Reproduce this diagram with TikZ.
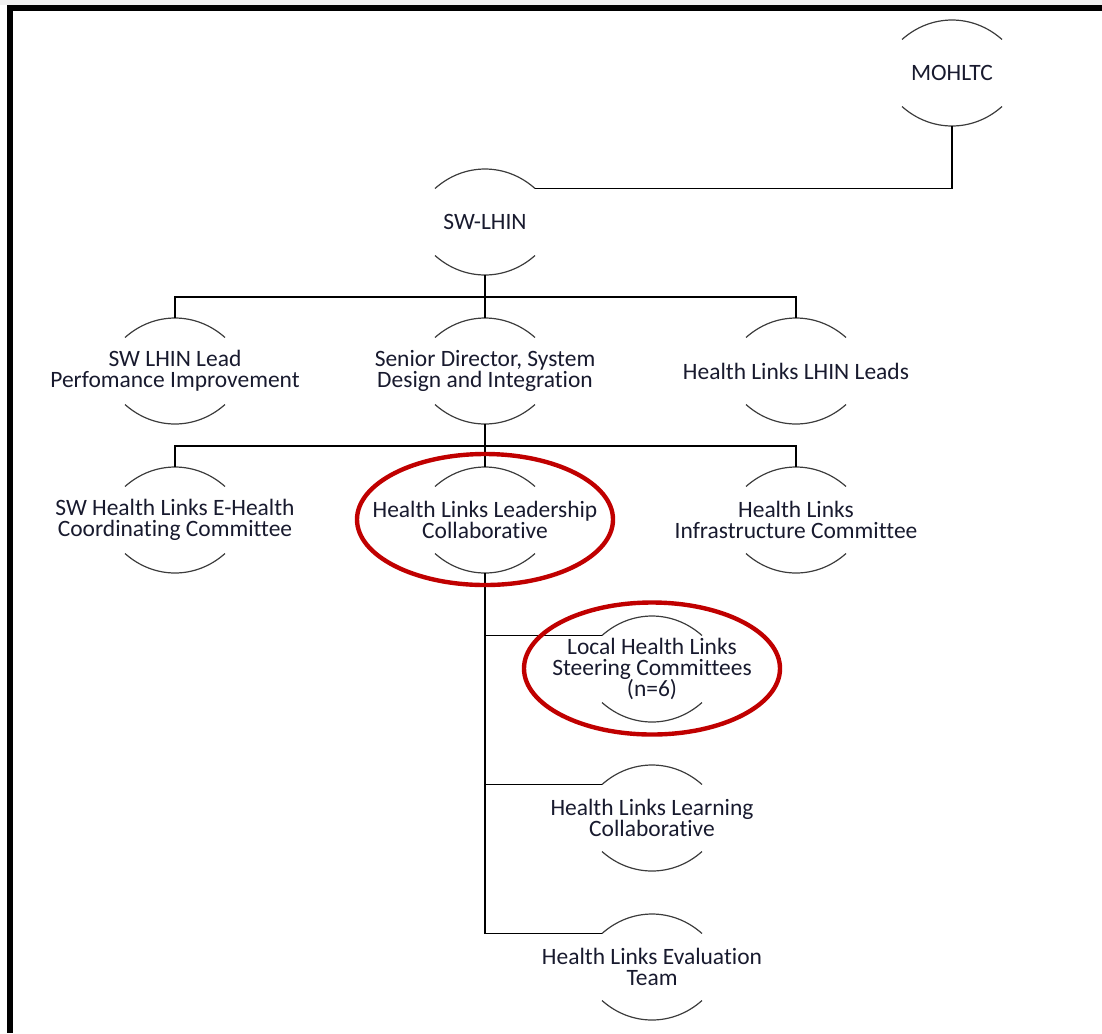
\documentclass[tikz,border=0pt]{standalone}
\usepackage{fontspec}
\setmainfont{Carlito}[Ligatures=NoCommon]
\definecolor{txt}{RGB}{24,26,46}
\definecolor{hl}{RGB}{192,0,0}
\definecolor{arcgray}{RGB}{60,60,60}
\begin{document}
\begin{tikzpicture}[x=0.75pt,y=0.75pt,
  org/.style={draw=none,inner sep=0pt,minimum width=75pt,minimum height=78.75pt,
    align=center,text=txt,font=\fontsize{17.6}{16}\selectfont},
  arcline/.style={draw=arcgray,line width=0.9pt},
  conn/.style={draw=black,line width=0.9pt},
  ring/.style={draw=hl,line width=3.3pt}]
\useasboundingbox (0,0) rectangle (1102,-1033);
\fill[gray!12] (0,0) rectangle (1102,-4.5);
\fill[black] (7,-4.5) rectangle (1102,-11);
\fill[black] (7,-4.5) rectangle (13,-1033);

% nodes
\node[org] (moh) at (952,-73) {MOHLTC};
\node[org] (sw) at (485,-222) {SW-LHIN};
\node[org] (lead) at (175,-371) {SW LHIN Lead\\Perfomance Improvement};
\node[org] (sd) at (485,-371) {Senior Director, System\\Design and Integration};
\node[org] (hlll) at (796,-371) {Health Links LHIN Leads};
\node[org] (ehc) at (175,-520) {SW Health Links E-Health\\Coordinating Committee};
\node[org] (hlc) at (485,-520) {Health Links Leadership\\Collaborative};
\node[org] (inf) at (796,-520) {Health Links\\Infrastructure Committee};
\node[org] (loc) at (652,-669) {Local Health Links\\Steering Committees\\(n=6)};
\node[org] (lrn) at (652,-818) {Health Links Learning\\Collaborative};
\node[org] (evl) at (652,-967) {Health Links Evaluation\\Team};

% arcs (each box is 100 x 105 px; arcs span 100 px and rise 19 px)
\foreach \n/\cx/\cy in {moh/952/-73,sw/485/-222,lead/175/-371,sd/485/-371,hlll/796/-371,
    ehc/175/-520,hlc/485/-520,inf/796/-520,loc/652/-669,lrn/652/-818,evl/652/-967}{
  \coordinate (\n-tl) at (\cx-50,\cy+33.5);
  \coordinate (\n-tr) at (\cx+50,\cy+33.5);
  \coordinate (\n-bl) at (\cx-50,\cy-33.5);
  \coordinate (\n-br) at (\cx+50,\cy-33.5);
  \draw[arcline] (\n-tl) to[bend left=41.8] (\n-tr);
  \draw[arcline] (\n-bl) to[bend right=41.8] (\n-br);
}

% connectors
\coordinate (bus1) at (485,-297);
\coordinate (bus2) at (485,-446);
\draw[conn] (moh.south) |- (sw-tr);
\draw[conn] (sw.south) -- (sd.north);
\draw[conn] (lead.north) |- (bus1) -| (hlll.north);
\draw[conn] (sd.south) -- (hlc.north);
\draw[conn] (ehc.north) |- (bus2) -| (inf.north);
\draw[conn] (hlc.south) |- (evl-tl);
\draw[conn] (hlc.south |- loc-tl) -- (loc-tl);
\draw[conn] (hlc.south |- lrn-tl) -- (lrn-tl);

% highlight rings
\draw[ring] (485,-519.5) ellipse[x radius=128, y radius=65.5];
\draw[ring] (652,-668.5) ellipse[x radius=128, y radius=66];
\end{tikzpicture}
\end{document}
